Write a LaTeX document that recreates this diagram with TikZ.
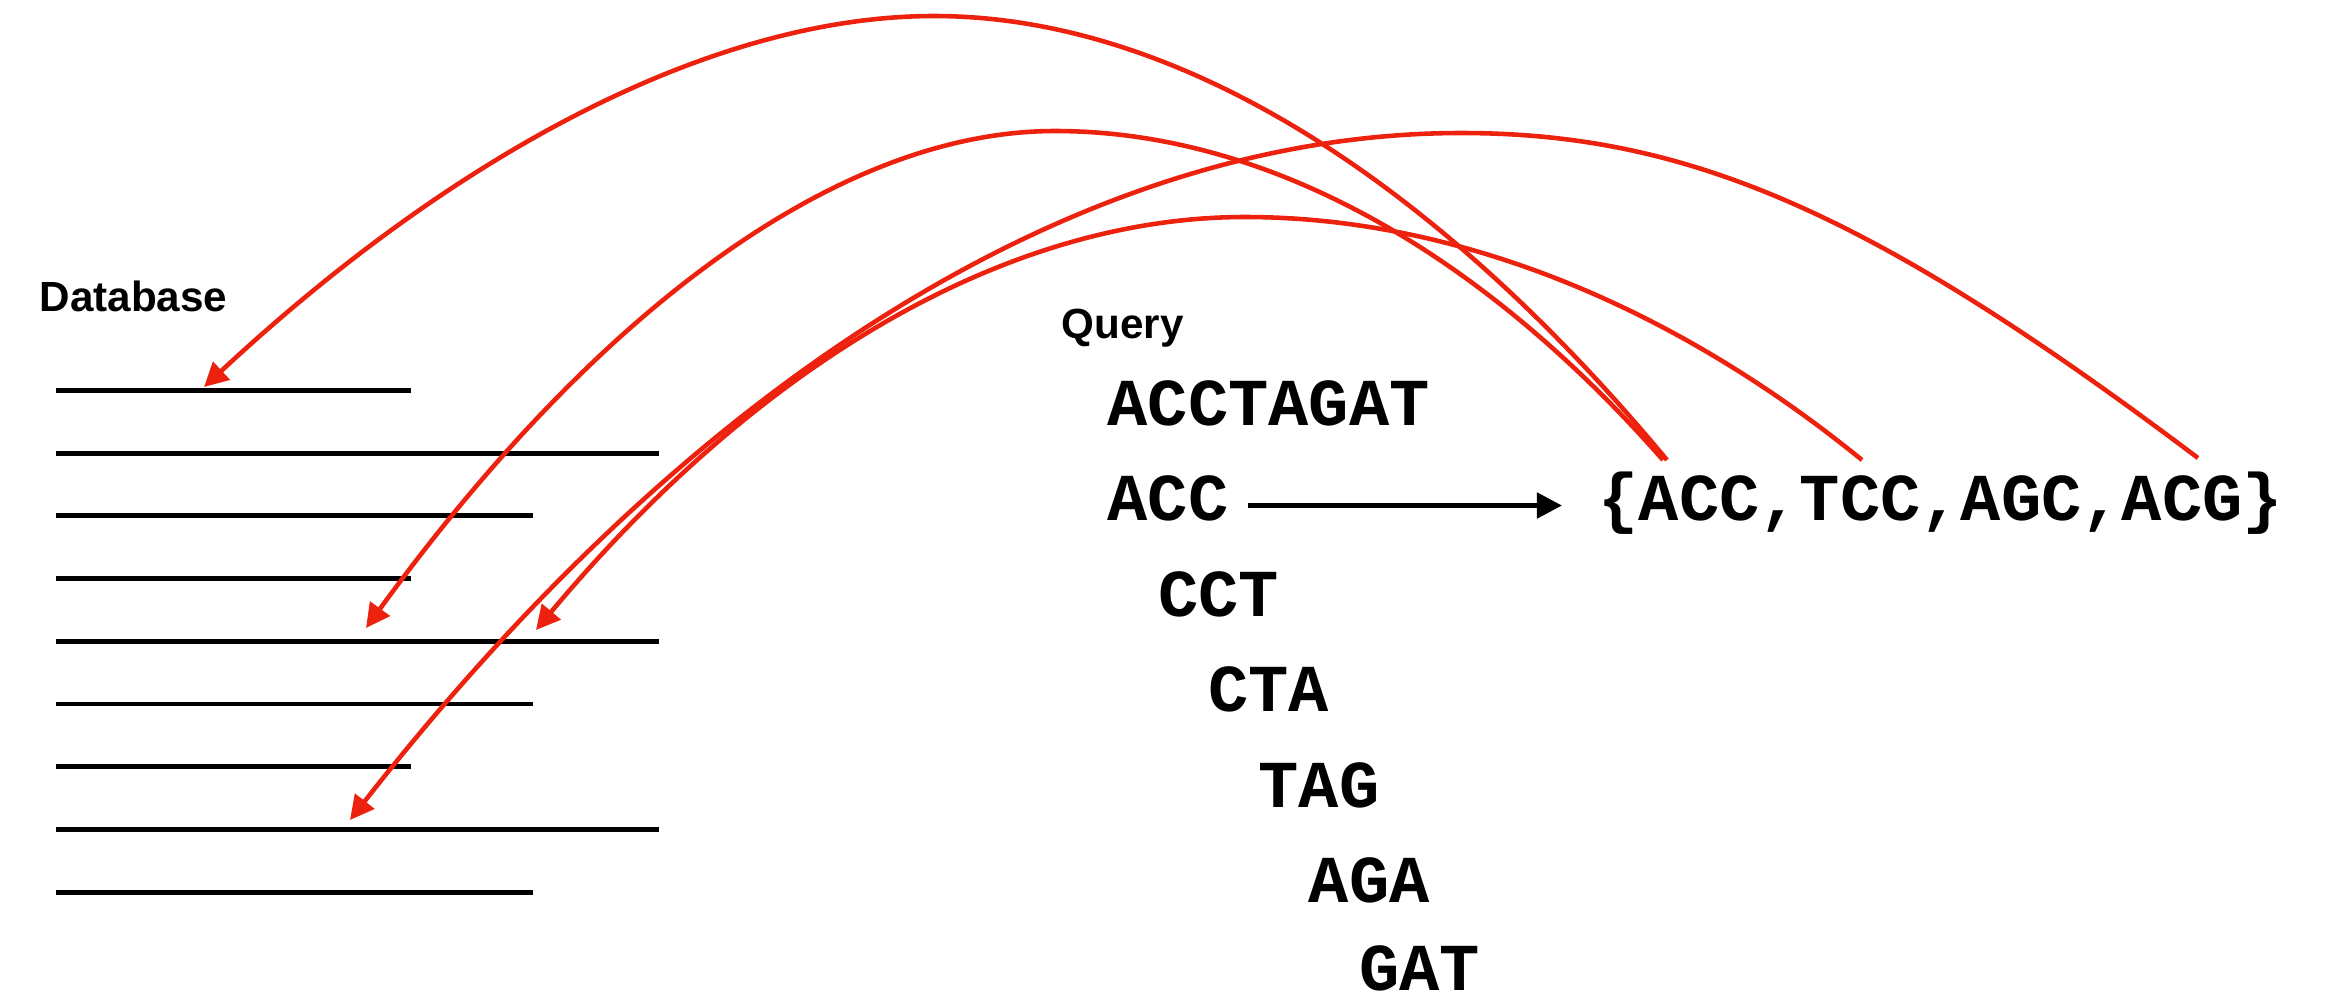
\documentclass[tikz,border=0pt]{standalone}
\usepackage{fontspec}
\setmainfont{Liberation Sans}
\newfontfamily\seqfont{Liberation Mono}
\usetikzlibrary{arrows.meta}
\definecolor{arcred}{RGB}{237,34,14}
\begin{document}
\begin{tikzpicture}[x=0.01cm,y=-0.01cm,
  heading/.style={inner sep=0pt, anchor=base west, font=\fontsize{12}{14}\selectfont\bfseries},
  seq/.style={inner sep=0pt, anchor=base west, font=\seqfont\fontsize{19.07}{22}\selectfont\bfseries},
  dbline/.style={line width=1.4pt},
  kmarrow/.style={line width=1.4pt, -{Triangle[length=0.25cm,width=0.25cm]}},
  hit/.style={draw=arcred, line width=1.3pt, -{Triangle[length=0.24cm,width=0.24cm]}}
]
\useasboundingbox (0,0) rectangle (2326,1002);

% database sequences
\foreach \i/\len in {0/411,1/659,2/533,3/411,4/659,5/533,6/411,7/659,8/533}
  \draw[dbline] (56,{390.5+62.7*\i}) coordinate (db\i) -- (\len,{390.5+62.7*\i});
\node[heading] (dbl) at (39,311) {Database};

% query and its k-mers
\node[heading] (ql) at (1061,338) {Query};
\node[seq] (full) at (1107,425) {ACCTAGAT};
\node[seq] (k1) at (1107,520.5) {ACC};
\node[seq] (k2) at (1157.3,616) {CCT};
\node[seq] (k3) at (1207.6,711.5) {CTA};
\node[seq] (k4) at (1257.9,807) {TAG};
\node[seq] (k5) at (1308.2,902.5) {AGA};
\node[seq] (k6) at (1358.5,990) {GAT};

% neighbourhood of the first k-mer
\node[seq] (set) at (1598,520.5) {\{ACC,TCC,AGC,ACG\}};
\path (k1.base east) ++(19,-15) coordinate (ka);
\path (set.base west) ++(-36,-15) coordinate (kb);
\draw[kmarrow] (ka) -- (kb);

% hits in the database
\coordinate (s1) at (1667,460);
\coordinate (s2) at (1663,460);
\coordinate (s3) at (1862,460);
\coordinate (s4) at (2198,458);
\coordinate (h1) at (204,387);
\coordinate (h2) at (366,628);
\coordinate (h3) at (536,630);
\coordinate (h4) at (350,820);

\draw[hit] (s1) .. controls (1427,171) and (1171,16) .. (934,16)
                .. controls (719,16) and (463,146) .. (h1);
\draw[hit] (s2) .. controls (1475,246) and (1262,131) .. (1055,131)
                .. controls (842,131) and (601,305) .. (h2);
\draw[hit] (s3) .. controls (1668,302) and (1452,217) .. (1245,217)
                .. controls (1008,217) and (760,362) .. (h3);
\draw[hit] (s4) .. controls (1874,214) and (1690,133) .. (1461,133)
                .. controls (1089,133) and (700,373) .. (h4);
\end{tikzpicture}
\end{document}
